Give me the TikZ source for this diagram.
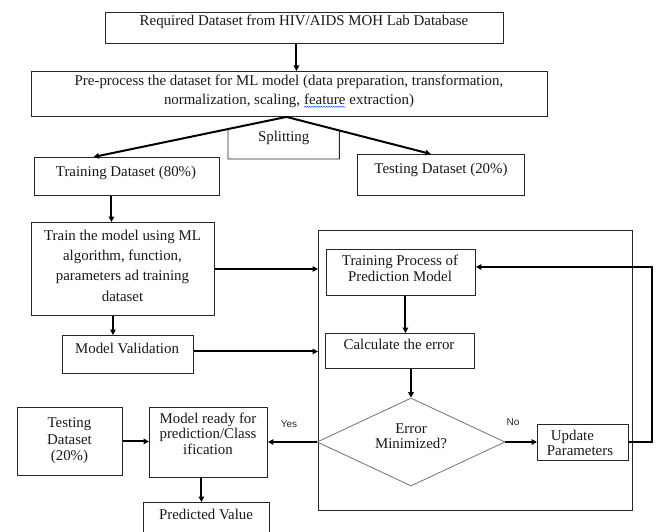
\documentclass[tikz,border=0pt]{standalone}
\usepackage{fontspec}
\setmainfont{Liberation Serif}
\newfontfamily\yesnofont{Liberation Sans}
\usetikzlibrary{arrows.meta,shapes.geometric,decorations.pathmorphing,calc}
\tikzset{
  box/.style={draw=black!85, line width=0.9pt, inner sep=0pt, anchor=north west},
  boxline/.style={draw=black!85, line width=0.9pt},
  txt/.style={inner sep=0pt, align=center, text=black!90, font=\fontsize{14.9pt}{19pt}\selectfont},
  arr/.style={line width=2pt, -{Triangle[length=5.5pt,width=5.5pt]}},
  lbl/.style={inner sep=0pt, text=black!85, font=\yesnofont\fontsize{10pt}{12pt}\selectfont},
}
\newcommand\wavyword[1]{\tikz[baseline=(ww.base)]{\node[inner sep=0pt,outer sep=0pt] (ww) {#1};
  \draw[blue!70!cyan, line width=0.5pt, decorate, decoration={snake, amplitude=0.45pt, segment length=2.4pt}]
  ([yshift=-2.2pt]ww.base west) -- ([yshift=-2.2pt]ww.base east);}}
\begin{document}
\begin{tikzpicture}[x=1pt,y=-1pt]
\useasboundingbox (0,0) rectangle (656,532);
\fill[white] (0,0) rectangle (656,532);
\clip (0,0) rectangle (656,532);

% big enclosing box
\node[box, minimum width=314pt, minimum height=280pt] (big) at (318,230) {};

% boxes
\node[box, minimum width=398pt, minimum height=31pt] (b1) at (105,12) {};
\node[box, minimum width=516pt, minimum height=45pt] (b2) at (31,71) {};
\node[box, minimum width=185pt, minimum height=38pt] (trd) at (34,157) {};
\node[box, minimum width=167pt, minimum height=41pt] (tst) at (357,154) {};
\node[box, minimum width=183pt, minimum height=93pt] (trn) at (31,222) {};
\node[box, minimum width=149pt, minimum height=46pt] (tpm) at (326,249) {};
\node[box, minimum width=131pt, minimum height=38pt] (mv) at (62,335) {};
\node[box, minimum width=149pt, minimum height=35pt] (cal) at (325,333) {};
\node[box, minimum width=91pt, minimum height=36pt] (upd) at (537,424) {};
\node[box, minimum width=105pt, minimum height=68pt] (tsl) at (17,407) {};
\node[box, minimum width=118pt, minimum height=70pt] (mrd) at (149,407) {};
\node[box, minimum width=126pt, minimum height=40pt] (prd) at (143,502) {};
\node[diamond, draw=black!55, line width=0.8pt, inner sep=0pt,
      minimum width=188pt, minimum height=88pt] (dia) at (411,442) {};

% splitting label box (three sides drawn below)
\node[txt, minimum width=111pt, minimum height=42pt, anchor=south west] (spl) at (228,159) {Splitting};

% texts
\node[txt] (b1t) at (304,22) {Required Dataset from HIV/AIDS MOH Lab Database};
\node[txt] (b2t) at (289,91.5) {Pre-process the dataset for ML model (data preparation, transformation,\\
  normalization, scaling, \wavyword{feature} extraction)};
\node[txt] (trdt) at (126,173) {Training Dataset (80\%)};
\node[txt] (tstt) at (441,170) {Testing Dataset (20\%)};
\node[txt, font=\fontsize{14.9pt}{20.3pt}\selectfont] (trnt) at (122.5,265.5)
  {Train the model using ML\\algorithm, function,\\parameters ad training\\dataset};
\node[txt, font=\fontsize{14.9pt}{16pt}\selectfont] (tpmt) at (400,268) {Training Process of\\Prediction Model};
\node[txt] (mvt) at (127,348) {Model Validation};
\node[txt] (calt) at (399,344) {Calculate the error};
\node[txt, font=\fontsize{14.9pt}{15pt}\selectfont] (diat) at (411,436.5) {Error\\Minimized?};
\node[txt, align=left, font=\fontsize{14.9pt}{15pt}\selectfont] (updt) at (580,442.5) {\hspace{4pt}Update\\Parameters};
\node[txt, font=\fontsize{14.9pt}{16.5pt}\selectfont] (tslt) at (69.5,441) {Testing\\Dataset\\(20\%)};
\node[txt, font=\fontsize{14.9pt}{15.5pt}\selectfont] (mrdt) at (208,433.5) {Model ready for\\prediction/Class\\ification};
\node[txt] (prdt) at (206,514) {Predicted Value};
\node[lbl] (yes) at (289,424) {Yes};
\node[lbl] (no) at (513,422) {No};

% connectors
\draw[arr] ([xshift=-8pt]b1.south) -- ([xshift=-8pt]b1.south |- b2.north);
\coordinate (S) at ([xshift=-3pt]b2.south);
\coordinate (T1) at ($(trd.north west)!0.32!(trd.north east)$);
\coordinate (T2) at ($(tst.north west)!0.44!(tst.north east)$);
\draw[arr] (S) -- (T1);
\draw[arr] (S) -- (T2);
\draw[boxline]
  (intersection cs: first line={(S)--(T1)}, second line={(spl.south west)--(spl.north west)})
  -- (spl.south west) -- (spl.south east)
  -- (intersection cs: first line={(S)--(T2)}, second line={(spl.south east)--(spl.north east)});
\draw[arr] ([xshift=-15.5pt]trd.south) -- ([xshift=-15.5pt]trd.south |- trn.north);
\draw[arr] (trn.east) -- (trn.east -| big.west);
\draw[arr] ([xshift=-10pt]trn.south) -- ([xshift=-10pt]trn.south |- mv.north);
\draw[arr] ([yshift=3pt]mv.east) -- ([yshift=3pt]mv.east -| big.west);
\draw[arr] ([xshift=4.5pt]tpm.south) -- ([xshift=4.5pt]tpm.south |- cal.north);
\draw[arr] (cal.south -| dia.north) -- (dia.north);
\draw[arr] (dia.west) -- (dia.west -| mrd.east);
\draw[arr] (dia.east) -- (dia.east -| upd.west);
\coordinate (fbx) at (652,267);
\draw[arr] (upd.east) -| (fbx) -- (fbx -| tpm.east);
\draw[arr] (tsl.east) -- (tsl.east -| mrd.west);
\draw[arr] ([xshift=-7pt]mrd.south) -- ([xshift=-7pt]mrd.south |- prd.north);
\end{tikzpicture}
\end{document}
